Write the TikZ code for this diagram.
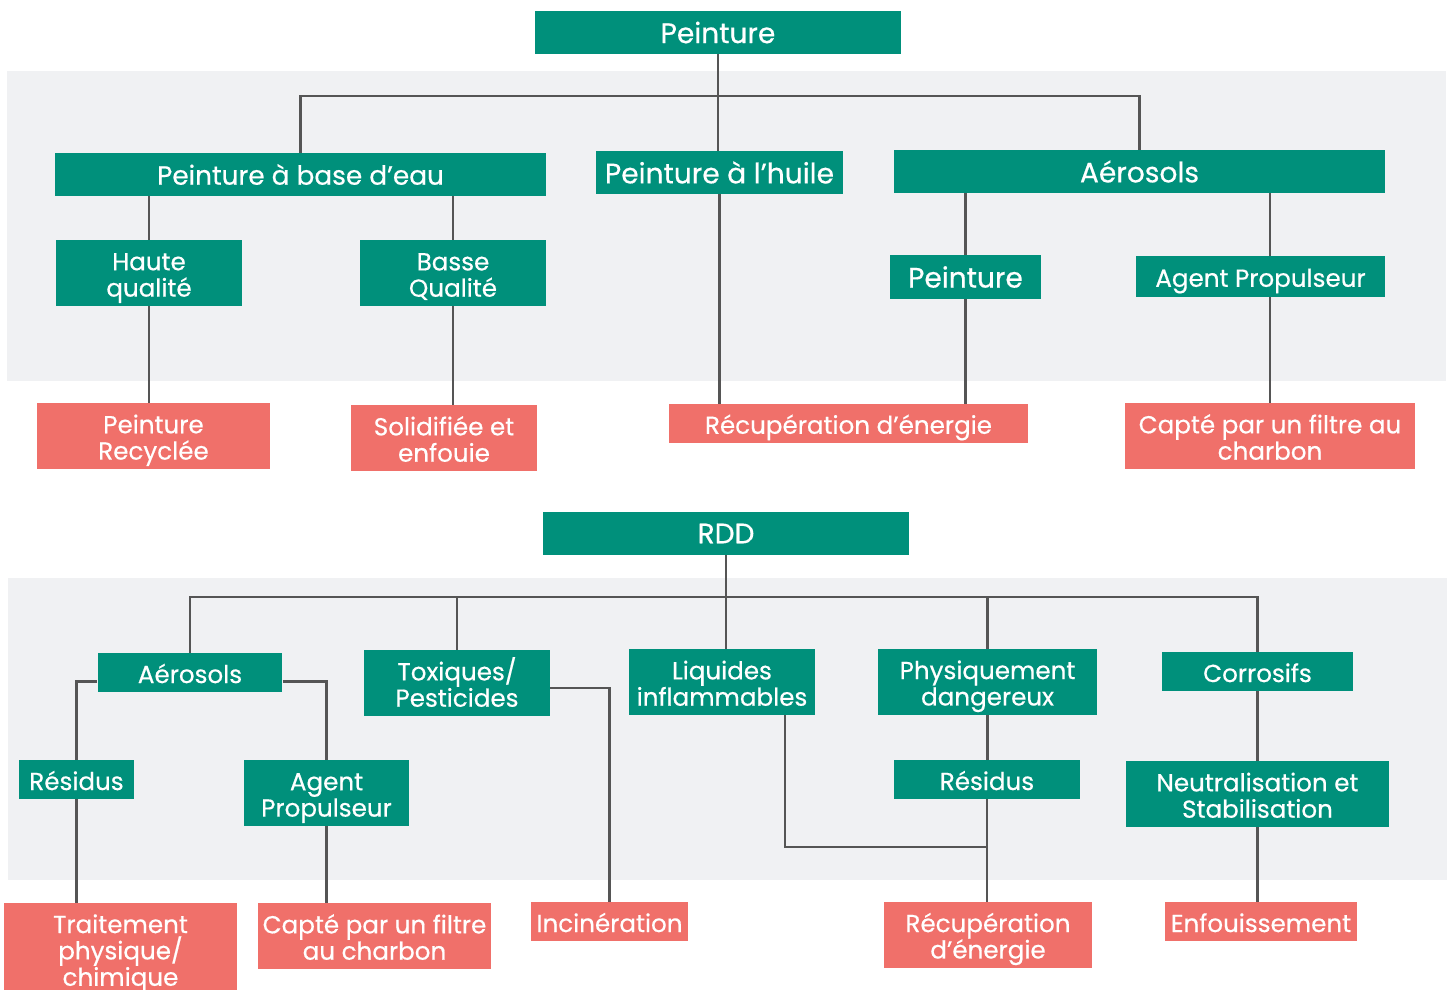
\documentclass[tikz,border=0pt]{standalone}
\usepackage{fontspec}
\setmainfont{Poppins}
\newfontfamily\medfont{Poppins}[FakeBold=0.5]
\usetikzlibrary{positioning}
\definecolor{teal1}{HTML}{00907B}
\definecolor{salmon1}{HTML}{F0706A}
\definecolor{band1}{HTML}{F0F1F3}
\definecolor{wire1}{HTML}{555555}
\newcommand{\tx}[1]{\rule{0pt}{15.5pt}#1\rule[-3.5pt]{0pt}{3.5pt}}
\tikzset{
  plain/.style={fill=teal1, text=white, inner sep=0pt, align=center},
  head/.style={plain, font=\medfont\fontsize{16}{17}\selectfont},
  cat/.style={plain, font=\medfont\fontsize{14}{15}\selectfont},
  fin/.style={cat, fill=salmon1},
  link/.style={draw=wire1, line width=1.4pt},
}
\begin{document}
\begin{tikzpicture}[x=0.02cm, y=-0.02cm]
    \clip (0,0) rectangle (1448,990);
    \fill[white] (0,0) rectangle (1448,990);
    \fill[band1] (7,71) rectangle (1446,381);
    \fill[band1] (8,578) rectangle (1447,880);

    \node[head, minimum width=7.34cm, minimum height=0.86cm] (peint) at (718,32.5) {Peinture};
    \node[head, font=\medfont\fontsize{15}{16}\selectfont, minimum width=9.82cm, minimum height=0.86cm] (eau) at (300.5,174.5) {Peinture à base d’eau};
    \node[head, minimum width=4.94cm, minimum height=0.86cm] (huile) at (719.5,172.5) {Peinture à l’huile};
    \node[head, minimum width=9.82cm, minimum height=0.86cm] (aero) at (1139.5,171.5) {Aérosols};
    \node[cat, minimum width=3.72cm, minimum height=1.32cm] (haute) at (149,273) {\tx{Haute\\qualité}};
    \node[cat, minimum width=3.72cm, minimum height=1.32cm] (basse) at (453,273) {\tx{Basse\\Qualité}};
    \node[head, minimum width=3.02cm, minimum height=0.88cm] (apeint) at (965.5,277) {Peinture};
    \node[cat, minimum width=4.98cm, minimum height=0.82cm] (aprop) at (1260.5,276.5) {\tx{Agent Propulseur}};
    \node[fin, minimum width=4.66cm, minimum height=1.32cm] (recyc) at (153.5,436) {\tx{Peinture\\Recyclée}};
    \node[fin, minimum width=3.72cm, minimum height=1.32cm] (solid) at (444,438) {\tx{Solidifiée et\\enfouie}};
    \node[fin, minimum width=7.18cm, minimum height=0.78cm] (recup) at (848.5,423.5) {\tx{Récupération d’énergie}};
    \node[fin, minimum width=5.82cm, minimum height=1.32cm] (capte) at (1270,436) {\tx{Capté par un filtre au\\charbon}};

    \node[head, minimum width=7.34cm, minimum height=0.86cm] (rdd) at (726,533.5) {RDD};
    \node[cat, minimum width=3.70cm, minimum height=0.78cm] (baero) at (190,672.5) {\tx{Aérosols}};
    \node[cat, minimum width=3.72cm, minimum height=1.32cm] (toxi) at (457,683) {\tx{Toxiques/\\Pesticides}};
    \node[cat, minimum width=3.72cm, minimum height=1.32cm] (liq) at (722,682) {\tx{Liquides\\inflammables}};
    \node[cat, minimum width=4.38cm, minimum height=1.32cm] (phys) at (987.5,682) {\tx{Physiquement\\dangereux}};
    \node[cat, minimum width=3.82cm, minimum height=0.78cm] (corr) at (1257.5,671.5) {\tx{Corrosifs}};
    \node[cat, minimum width=2.30cm, minimum height=0.78cm] (resg) at (76.5,779.5) {\tx{Résidus}};
    \node[cat, minimum width=3.32cm, minimum height=1.32cm] (bprop) at (326.5,793) {\tx{Agent\\Propulseur}};
    \node[cat, minimum width=3.72cm, minimum height=0.78cm] (resd) at (987,779.5) {\tx{Résidus}};
    \node[cat, minimum width=5.28cm, minimum height=1.32cm] (neutr) at (1257.5,794) {\tx{Neutralisation et\\Stabilisation}};
    \node[fin, minimum width=4.66cm, minimum height=1.84cm] (trait) at (120.5,949) {\tx{Traitement\\physique/\\chimique}};
    \node[fin, minimum width=4.66cm, minimum height=1.32cm] (bcapte) at (374.5,936) {\tx{Capté par un filtre\\au charbon}};
    \node[fin, minimum width=3.14cm, minimum height=0.78cm] (incin) at (609.5,921.5) {\tx{Incinération}};
    \node[fin, minimum width=4.16cm, minimum height=1.32cm] (brecup) at (988,935) {\tx{Récupération\\d’énergie}};
    \node[fin, minimum width=3.84cm, minimum height=0.78cm] (enf) at (1261,921.5) {\tx{Enfouissement}};

    \coordinate (bus1) at (718,96);
    \coordinate (bus2) at (727,597);
    \coordinate (merge) at (987,847);

    \draw[link] (peint.south) -- (peint.south |- huile.north);
    \draw[link] (eau.north) |- (bus1) -| (aero.north);
    \draw[link] (haute.north |- eau.south) -- (haute.north);
    \draw[link] (basse.north |- eau.south) -- (basse.north);
    \draw[link] (haute.south) -- (haute.south |- recyc.north);
    \draw[link] (basse.south) -- (basse.south |- solid.north);
    \draw[link] (huile.south) -- (huile.south |- recup.north);
    \draw[link] (apeint.north |- aero.south) -- (apeint.north);
    \draw[link] (apeint.south) -- (apeint.south |- recup.north);
    \draw[link] (aero.south -| capte.north) -- (capte.north |- aprop.north);
    \draw[link] (aprop.south -| capte.north) -- (capte.north);

    \draw[link] (rdd.south) -- (rdd.south |- liq.north);
    \draw[link] (baero.north) |- (bus2) -| (corr.north);
    \draw[link] (toxi.north) -- (toxi.north |- bus2);
    \draw[link] (phys.north) -- (phys.north |- bus2);
    \draw[link] ([yshift=0.22cm]baero.south west) -| (resg.north);
    \draw[link] ([yshift=0.22cm]baero.south east) -| (bprop.north);
    \draw[link] (resg.south) -- (resg.south |- trait.north);
    \draw[link] (bprop.south) -- (bprop.south |- bcapte.north);
    \draw[link] ([yshift=-0.1cm]toxi.east) -| (incin.north);
    \draw[link] ([xshift=1.26cm]liq.south) |- (merge);
    \draw[link] (phys.south) -- (phys.south |- resd.north);
    \draw[link] (resd.south) -- (resd.south |- brecup.north);
    \draw[link] (corr.south) -- (corr.south |- neutr.north);
    \draw[link] (neutr.south) -- (neutr.south |- enf.north);
  \end{tikzpicture}
\end{document}
